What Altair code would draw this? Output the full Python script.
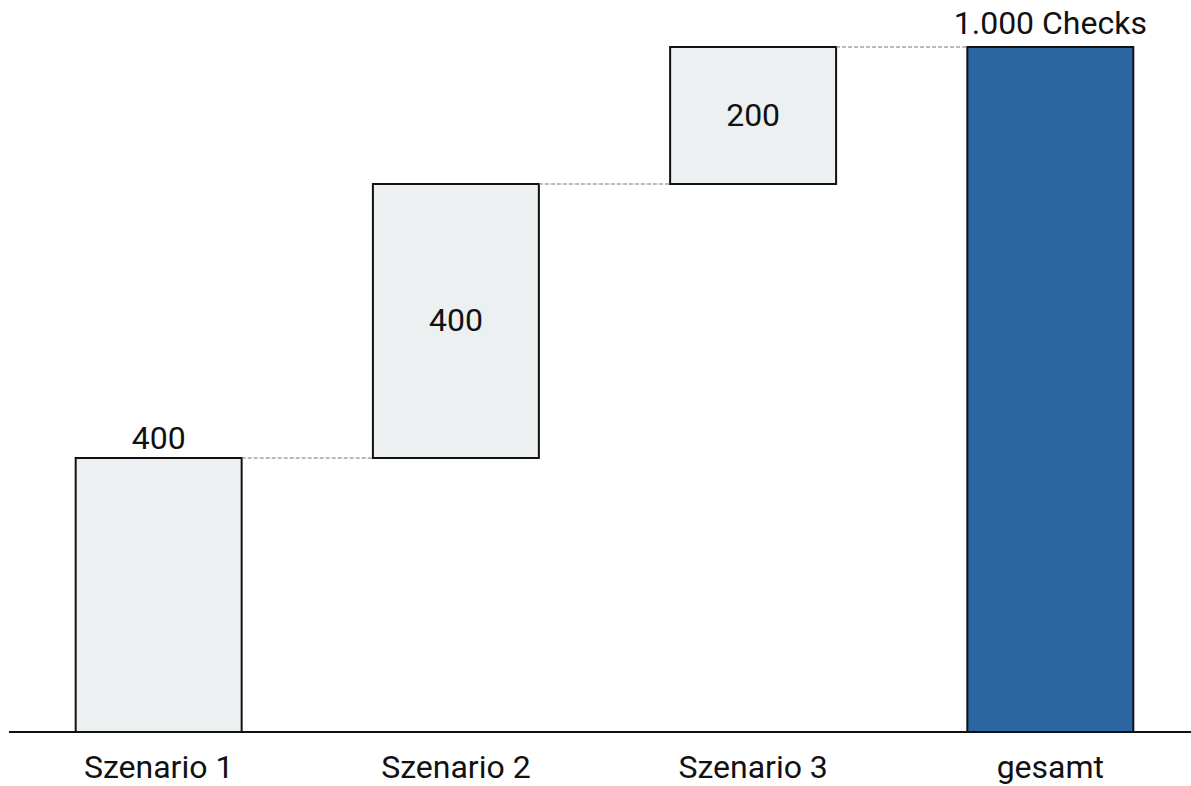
import altair as alt
import pandas as pd

# Waterfall: three scenarios stacking up to the total number of checks
categories = ["Szenario 1", "Szenario 2", "Szenario 3", "gesamt"]
starts = [0, 400, 800, 0]
ends = [400, 800, 1000, 1000]
labels = ["400", "400", "200", "1.000 Checks"]
placement = ["above", "inside", "inside", "above"]
kinds = ["step", "step", "step", "total"]

bars = pd.DataFrame({
    "cat": categories,
    "start": starts,
    "end": ends,
    "mid": [(s + e) / 2 for s, e in zip(starts, ends)],
    "label": labels,
    "place": placement,
    "kind": kinds,
})

# connector lines between consecutive bars at the running total
links = pd.DataFrame({
    "src": categories[:-1],
    "dst": categories[1:],
    "level": ends[:-1],
})

FONT = "Roboto"
FS = 32
BAND = 166  # bar width in pixels
x_scale = alt.Scale(domain=categories, range=[0, 1189], paddingInner=0.4416, paddingOuter=0.221)
y_scale = alt.Scale(domain=[0, 1000], nice=False, zero=True)

base = alt.Chart(bars)

rects = base.mark_bar(stroke="#111111", strokeWidth=2).encode(
    x=alt.X("cat:N", scale=x_scale,
            axis=alt.Axis(title=None, domain=False, ticks=False, labelFont=FONT,
                          labelFontSize=FS, labelColor="#111111", labelPadding=20,
                          labelAngle=0)),
    y=alt.Y("start:Q", scale=y_scale, axis=None),
    y2="end:Q",
    color=alt.Color("kind:N", scale=alt.Scale(domain=["step", "total"],
                                              range=["#edf0f1", "#2c67a4"]), legend=None),
)

# rule runs from the centre of one bar to the centre of the next, trimmed by half a bar each side
connectors = alt.Chart(links).mark_rule(
    color="#777777", strokeWidth=1.2, strokeDash=[4, 2], xOffset=BAND / 2, x2Offset=-BAND / 2
).encode(
    x=alt.X("src:N", scale=x_scale),
    x2="dst:N",
    y=alt.Y("level:Q", scale=y_scale),
)

inside = base.transform_filter(alt.datum.place == "inside").mark_text(
    font=FONT, fontSize=FS, color="#111111", baseline="middle"
).encode(
    x=alt.X("cat:N", scale=x_scale),
    y=alt.Y("mid:Q", scale=y_scale),
    text="label:N",
)

above_first = base.transform_filter(alt.datum.cat == "Szenario 1").mark_text(
    font=FONT, fontSize=FS, color="#111111", baseline="alphabetic", dy=-9
).encode(
    x=alt.X("cat:N", scale=x_scale),
    y=alt.Y("end:Q", scale=y_scale),
    text="label:N",
)

above_total = base.transform_filter(alt.datum.cat == "gesamt").mark_text(
    font=FONT, fontSize=FS, color="#111111", baseline="alphabetic", dy=-13
).encode(
    x=alt.X("cat:N", scale=x_scale),
    y=alt.Y("end:Q", scale=y_scale),
    text="label:N",
)

# horizontal base line across the whole width
ground = alt.Chart(pd.DataFrame({"level": [0]})).mark_rule(color="#111111", strokeWidth=2).encode(
    x=alt.value(-1), x2=alt.value(1181), y=alt.Y("level:Q", scale=y_scale)
)

chart = alt.layer(rects, connectors, ground, inside, above_first, above_total).properties(
    width=1181,
    height=685,
    padding={"left": 10, "top": 47, "right": 0, "bottom": 54},
    autosize=alt.AutoSizeParams(type="none"),
    background="white",
).configure_view(stroke=None)

chart.save("out.html", embed_options={"renderer": "svg", "actions": False})
